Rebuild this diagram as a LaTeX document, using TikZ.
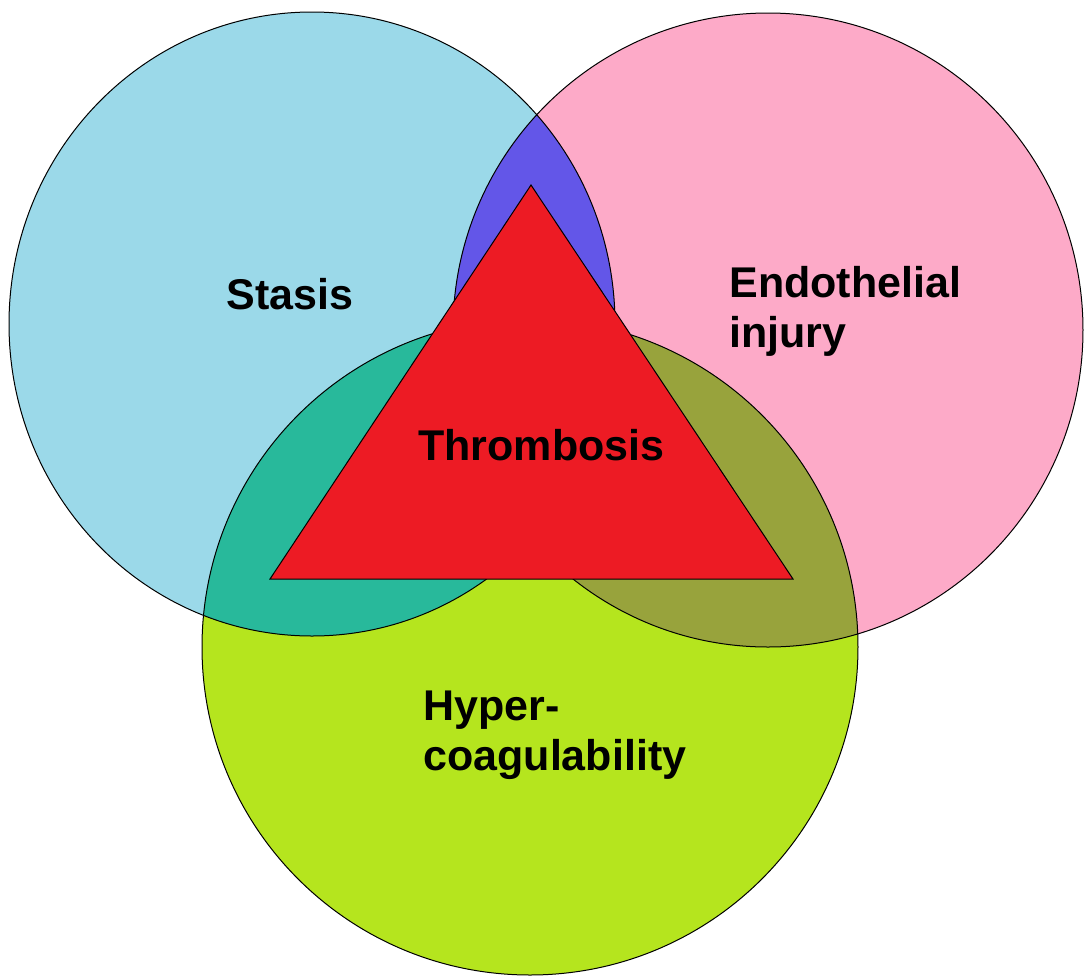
\documentclass[tikz,border=0pt]{standalone}
\usepackage{fontspec}
\setmainfont{Liberation Sans}
\usetikzlibrary{positioning}
\definecolor{stasisblue}{RGB}{155,217,233}
\definecolor{injurypink}{RGB}{253,170,200}
\definecolor{coaglime}{RGB}{181,229,30}
\definecolor{lensviolet}{RGB}{99,86,232}
\definecolor{lensteal}{RGB}{40,185,155}
\definecolor{lensolive}{RGB}{152,163,60}
\definecolor{clotred}{RGB}{237,27,36}

\begin{document}
\begin{tikzpicture}[x=0.5pt,y=-0.5pt,
    rim/.style={draw=black,line width=0.5pt},
    tag/.style={font=\fontsize{21.5}{24.75}\selectfont\bfseries,align=left,inner sep=0pt,anchor=base west}]
  \useasboundingbox (0,0) rectangle (1084,976);
  \def\stasisring{(312,324) ellipse [x radius=303,y radius=312]}
  \def\injuryring{(768,330) ellipse [x radius=315,y radius=317]}
  \def\coagring{(530,647) circle [radius=328]}
  \fill[stasisblue] \stasisring;
  \fill[injurypink] \injuryring;
  \fill[coaglime] \coagring;
  \foreach \a/\b/\c in {\stasisring/\injuryring/lensviolet,\stasisring/\coagring/lensteal,\injuryring/\coagring/lensolive}{
    \begin{scope} \clip \a; \fill[\c] \b; \end{scope}
  }
  \foreach \r in {\stasisring,\injuryring,\coagring} \draw[rim] \r;
  \draw[rim,fill=clotred] (531,185) -- (793,579) -- (270,579) -- cycle;
  \node[tag] (stasis) at (226,309) {Stasis};
  \node[tag] (injury) at (729,347) {Endothelial\\injury};
  \node[tag] (thrombosis) at (418,460) {Thrombosis};
  \node[tag] (hyper) at (423,770) {Hyper-\\coagulability};
\end{tikzpicture}
\end{document}
